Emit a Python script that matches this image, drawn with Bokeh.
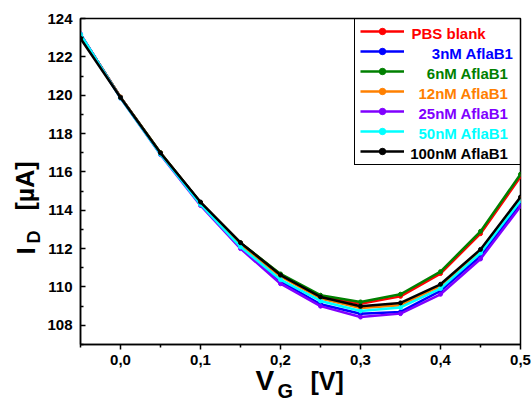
from math import pi
from bokeh.plotting import figure
from bokeh.layouts import row, column
from bokeh.models import (FixedTicker, Label, Legend, LegendItem, Range1d,
                          CustomJSTickFormatter)
from bokeh.core.properties import value
from bokeh.embed import file_html
from bokeh.resources import INLINE

# ---- data ----
vg = [-0.05, 0.0, 0.05, 0.1, 0.15, 0.2, 0.25, 0.3, 0.35, 0.4, 0.45, 0.5]

pbs_blank = [123.15, 119.90, 117.00, 114.40, 112.30, 110.65, 109.52, 109.13, 109.51, 110.70, 112.78, 115.74]
nm3       = [123.15, 119.90, 116.95, 114.35, 112.15, 110.30, 109.10, 108.60, 108.70, 109.80, 111.60, 114.35]
nm6       = [123.15, 119.90, 117.00, 114.40, 112.30, 110.68, 109.57, 109.22, 109.62, 110.80, 112.90, 115.88]
nm12      = [123.15, 119.90, 116.95, 114.35, 112.20, 110.55, 109.40, 108.90, 109.05, 110.05, 111.90, 114.60]
nm25      = [123.20, 119.85, 116.90, 114.25, 112.00, 110.17, 109.00, 108.43, 108.61, 109.62, 111.46, 114.20]
nm50      = [123.18, 119.85, 116.92, 114.30, 112.09, 110.38, 109.27, 108.75, 108.93, 109.92, 111.77, 114.49]
nm100     = [122.96, 119.88, 116.99, 114.43, 112.31, 110.62, 109.48, 108.99, 109.17, 110.14, 111.96, 114.69]

series_values = [pbs_blank, nm3, nm6, nm12, nm25, nm50, nm100]
series_names = ["PBS blank", "3nM AflaB1", "6nM AflaB1", "12nM AflaB1",
                "25nM AflaB1", "50nM AflaB1", "100nM AflaB1"]
series_colors = ["#ff0000", "#0000ff", "#008000", "#ff8000",
                 "#8000ff", "#00ffff", "#000000"]

x_ticks = [0.0, 0.1, 0.2, 0.3, 0.4, 0.5]
x_minor_ticks = [-0.05, 0.05, 0.15, 0.25, 0.35, 0.45]
y_ticks = [108, 110, 112, 114, 116, 118, 120, 122, 124]
y_minor_ticks = [107, 109, 111, 113, 115, 117, 119, 121, 123]

x_title_parts = ["V", "G", "[V]"]
y_title_parts = ["I", "D", "[µA]"]

FONT = "Liberation Sans"

# ---- main chart ----
p = figure(width=487, height=372, output_backend="svg", toolbar_location=None,
           x_range=Range1d(-0.05, 0.5), y_range=Range1d(107, 124),
           min_border_left=36, min_border_right=11,
           min_border_top=18, min_border_bottom=28)

p.xgrid.visible = False
p.ygrid.visible = False
p.outline_line_color = "black"
p.outline_line_width = 1.5
p.outline_line_alpha = 1.0

p.xaxis.ticker = FixedTicker(ticks=x_ticks, minor_ticks=x_minor_ticks)
p.xaxis.formatter = CustomJSTickFormatter(code="return tick.toFixed(1).replace('.', ',');")
p.yaxis.ticker = FixedTicker(ticks=y_ticks, minor_ticks=y_minor_ticks)

for ax in (p.xaxis, p.yaxis):
    ax.axis_line_width = 1.5
    ax.major_tick_line_width = 1.5
    ax.minor_tick_line_width = 1.5
    ax.major_label_text_font = FONT
    ax.major_label_text_font_style = "bold"
    ax.major_label_text_font_size = "15px"
    ax.major_label_text_color = "black"
    ax.axis_label = None

p.xaxis.major_tick_in = 0
p.xaxis.major_tick_out = 5
p.xaxis.minor_tick_in = 0
p.xaxis.minor_tick_out = 3
p.xaxis.major_label_standoff = 5

p.yaxis.major_tick_in = 5
p.yaxis.major_tick_out = 0
p.yaxis.minor_tick_in = 3
p.yaxis.minor_tick_out = 0
p.yaxis.major_label_standoff = 8

items = []
for vals, name, col in zip(series_values, series_names, series_colors):
    lr = p.line(vg, vals, line_color=col, line_width=2.5)
    sr = p.scatter(vg, vals, size=4, marker="circle", fill_color=col, line_color=col)
    items.append(LegendItem(label="", renderers=[lr, sr]))

legend = Legend(items=items, location=(274, 179), padding=5, spacing=4,
                glyph_height=16, glyph_width=44, label_height=16, label_width=103,
                label_standoff=8, border_line_color="black", border_line_width=1,
                border_line_alpha=1.0, background_fill_alpha=0.0, margin=0)
p.add_layout(legend)

legend_text_x = [331, 433, 428, 428, 428, 428, 428]
legend_text_align = ["left", "right", "right", "right", "right", "right", "right"]
for i, (name, col) in enumerate(zip(series_names, series_colors)):
    p.add_layout(Label(x=legend_text_x[i], y=311 - 20 * i, x_units="screen", y_units="screen",
                       text=name, text_color=col, text_font=FONT, text_font_style="bold",
                       text_font_size="15px", text_align=legend_text_align[i],
                       text_baseline="middle"))

# ---- y title strip (left of the chart) ----
ly = figure(frame_width=44, frame_height=372, output_backend="svg", toolbar_location=None,
            x_range=Range1d(0, 44), y_range=Range1d(372, 0), title=None,
            x_axis_type=None, y_axis_type=None, min_border=0)
ly.outline_line_color = None
ly.grid.visible = False
ly.text(x=[25, 33, 24], y=[236, 225, 192], text=y_title_parts,
        text_font=value(FONT), text_font_style="bold",
        text_font_size=["26px", "18px", "25px"], text_color="black",
        text_align="left", text_baseline="alphabetic", angle=pi / 2)

# ---- x title strip (full width, below, slightly overlapping the empty border) ----
bx = figure(frame_width=531, frame_height=50, output_backend="svg", toolbar_location=None,
            x_range=Range1d(0, 531), y_range=Range1d(50, 0), title=None,
            x_axis_type=None, y_axis_type=None, min_border=0,
            margin=(-20, 0, 0, 0))
bx.outline_line_color = None
bx.background_fill_alpha = 0.0
bx.border_fill_alpha = 0.0
bx.grid.visible = False
bx.text(x=[255, 277, 310], y=[28, 38, 28], text=x_title_parts,
        text_font=value(FONT), text_font_style="bold",
        text_font_size=["28px", "20px", "25px"], text_color="black",
        text_align="left", text_baseline="alphabetic")

layout = column(row(ly, p, spacing=0), bx, spacing=0)
open("out.html", "w").write(file_html(layout, INLINE))
